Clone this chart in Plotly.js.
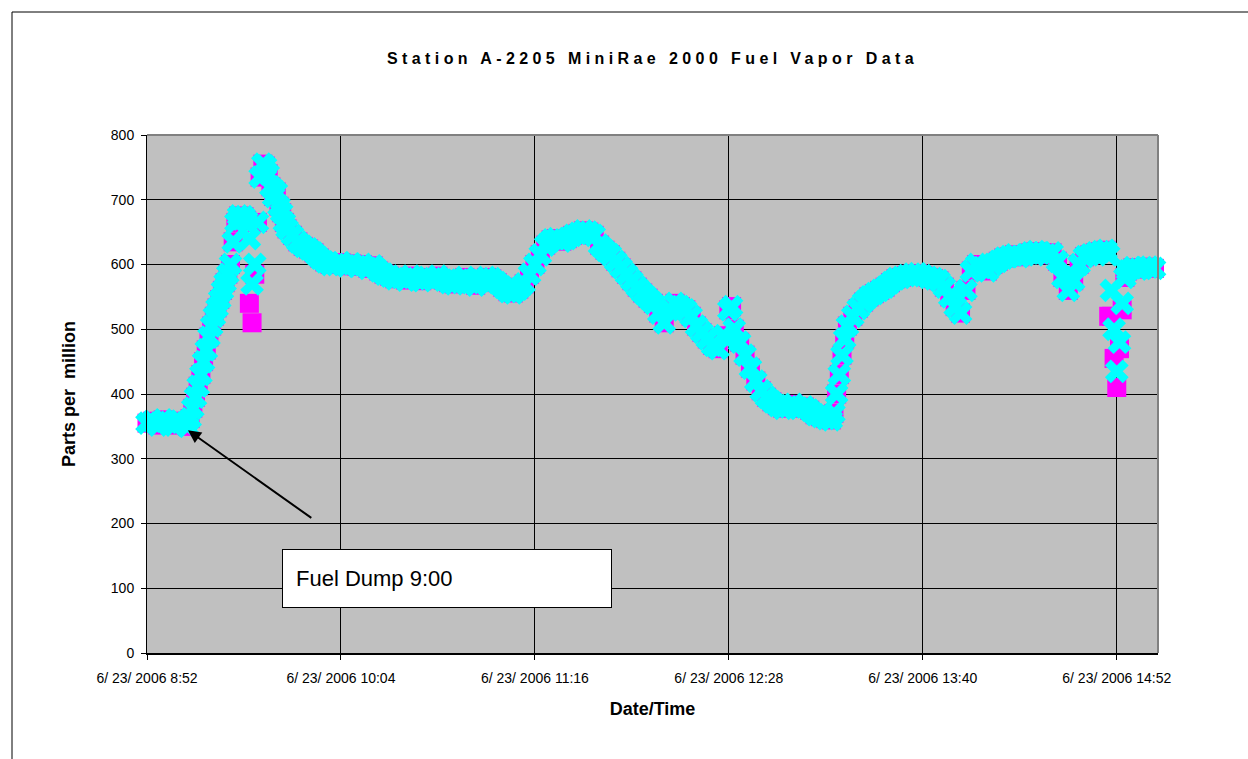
<!DOCTYPE html>
<html>
<head>
<meta charset="utf-8">
<script src="https://cdn.plot.ly/plotly-3.0.1.min.js"></script>
<style>
html,body{margin:0;padding:0;background:#fff;overflow:hidden;}
#chart{width:1248px;height:759px;}
.gtitle{letter-spacing:4.4px;}
</style>
</head>
<body>
<div id="chart"></div>
<script>
const datePrefix = "2006-06-23 ";
const times = [
"08:52","08:54","08:56","08:58","09:00","09:02","09:04","09:06","09:07","09:08",
"09:09","09:10","09:11","09:12","09:13","09:14","09:15","09:16","09:17","09:18",
"09:19","09:20","09:21","09:22","09:23","09:24","09:25","09:26","09:27","09:28",
"09:29","09:30","09:31","09:32","09:33","09:34","09:35","09:36","09:37","09:38",
"09:39","09:40","09:41","09:42","09:43","09:44","09:46","09:48","09:50","09:52",
"09:54","09:56","09:58","10:00","10:02","10:04","10:06","10:08","10:10","10:12",
"10:14","10:16","10:18","10:20","10:22","10:24","10:26","10:28","10:30","10:32",
"10:34","10:36","10:38","10:40","10:42","10:44","10:46","10:48","10:50","10:52",
"10:54","10:56","10:58","11:00","11:02","11:04","11:06","11:08","11:10","11:12",
"11:14","11:16","11:18","11:20","11:22","11:24","11:26","11:28","11:30","11:32",
"11:34","11:36","11:38","11:40","11:42","11:44","11:46","11:48","11:50","11:52",
"11:54","11:56","11:58","12:00","12:02","12:04","12:06","12:08","12:10","12:12",
"12:14","12:16","12:18","12:20","12:22","12:24","12:26","12:28","12:29","12:30",
"12:32","12:34","12:36","12:38","12:40","12:42","12:44","12:46","12:48","12:50",
"12:52","12:54","12:56","12:58","13:00","13:02","13:04","13:06","13:07","13:08",
"13:09","13:10","13:11","13:12","13:14","13:16","13:18","13:20","13:22","13:24",
"13:26","13:28","13:30","13:32","13:34","13:36","13:38","13:40","13:42","13:44",
"13:46","13:48","13:50","13:52","13:54","13:56","13:58","14:00","14:02","14:04",
"14:06","14:08","14:10","14:12","14:14","14:16","14:18","14:20","14:22","14:24",
"14:26","14:28","14:30","14:32","14:34","14:36","14:38","14:40","14:42","14:44",
"14:46","14:48","14:49","14:50","14:51","14:52","14:53","14:54","14:55","14:56",
"14:58","15:00","15:02","15:04","15:06"
];
// magenta series (square markers)
const ppmMagenta = [
355,358,352,360,356,352,358,355,350,362,
378,395,412,430,450,468,488,505,520,533,
546,560,572,585,600,635,665,675,670,674,
668,540,510,585,665,735,755,752,740,720,
705,712,690,680,665,655,645,635,628,624,
618,610,604,600,600,603,598,601,597,600,
594,598,590,585,582,578,580,576,582,578,
575,580,578,582,576,572,570,576,580,572,
568,575,580,578,572,565,558,556,562,570,
585,600,615,630,638,640,636,640,645,648,
652,650,645,630,622,615,605,595,585,575,
565,556,548,540,525,510,530,540,535,530,
520,505,495,485,475,470,490,530,535,500,
480,460,440,420,405,395,388,382,378,380,
384,378,380,375,368,365,362,360,370,400,
430,460,485,505,520,532,542,550,555,560,
565,572,578,580,583,585,586,583,580,578,
575,565,550,535,525,560,590,600,595,590,
600,605,610,612,615,612,615,618,620,618,
615,618,605,580,560,575,600,612,615,618,
620,622,520,520,455,410,470,530,580,590,
595,593,595,596,594
];
// cyan series (x markers)
const ppmCyan = [
355,358,352,360,356,352,358,355,350,362,
378,395,412,430,450,468,488,505,520,533,
546,560,572,585,600,635,665,675,670,674,
668,640,570,600,665,735,755,752,740,720,
705,712,690,680,665,655,645,635,628,624,
618,610,604,600,600,603,598,601,597,600,
594,598,590,585,582,578,580,576,582,578,
575,580,578,582,576,572,570,576,580,572,
568,575,580,578,572,565,558,556,562,570,
585,600,615,630,638,640,636,640,645,648,
652,650,645,630,622,615,605,595,585,575,
565,556,548,540,525,510,530,540,535,530,
520,505,495,485,475,470,490,530,535,500,
480,460,440,420,405,395,388,382,378,380,
384,378,380,375,368,365,362,360,370,400,
430,460,485,505,520,532,542,550,555,560,
565,572,578,580,583,585,586,583,580,578,
575,565,550,535,525,560,590,600,595,590,
600,605,610,612,615,612,615,618,620,618,
615,618,605,580,560,575,600,612,615,618,
620,622,615,560,500,435,480,540,580,590,
595,593,595,596,594
];
const tickTimes = ["08:52","10:04","11:16","12:28","13:40","14:52"];
const tickLabels = ["6/ 23/ 2006 8:52","6/ 23/ 2006 10:04","6/ 23/ 2006 11:16","6/ 23/ 2006 12:28","6/ 23/ 2006 13:40","6/ 23/ 2006 14:52"];
const chartTitle = "Station A-2205 MiniRae 2000 Fuel Vapor Data";
const noteText = "Fuel Dump 9:00";

const xs = times.map(t => datePrefix + t);
const FONT = "Liberation Sans, Arial, sans-serif";

const traces = [
  {x: xs, y: ppmMagenta, type: "scatter", mode: "markers", cliponaxis: false,
   marker: {symbol: "square", size: 19, color: "#FF00FF", line: {width: 0}}, showlegend: false, hoverinfo: "skip"},
  {x: xs, y: ppmCyan, type: "scatter", mode: "markers", cliponaxis: false,
   marker: {symbol: "x", size: 21, color: "#00FFFF", line: {width: 0}}, showlegend: false, hoverinfo: "skip"}
];

const layout = {
  width: 1248, height: 759,
  margin: {l: 147, r: 90, t: 135, b: 106},
  paper_bgcolor: "#FFFFFF",
  plot_bgcolor: "#C0C0C0",
  font: {family: FONT, color: "#000"},
  title: {text: "<b>" + chartTitle + "</b>", font: {family: FONT, size: 16, color: "#000"},
          x: 0.5, xref: "paper", xanchor: "center", y: 1 - 58/759, yref: "container", yanchor: "middle"},
  xaxis: {
    type: "date",
    range: [datePrefix + "08:52:00", datePrefix + "15:07:18"],
    tickvals: tickTimes.map(t => datePrefix + t),
    ticktext: tickLabels,
    ticks: "outside", ticklen: 5, tickcolor: "#000", tickwidth: 1,
    ticklabelstandoff: 6,
    showgrid: true, gridcolor: "#000", gridwidth: 1,
    showline: true, linecolor: "#000", linewidth: 2,
    zeroline: false,
    tickfont: {size: 14, family: FONT, color: "#000"},
    title: {text: "<b>Date/Time</b>", font: {size: 18, family: FONT, color: "#000"}, standoff: 18}
  },
  yaxis: {
    range: [0, 800], dtick: 100, tick0: 0,
    ticks: "outside", ticklen: 5, tickcolor: "#000", tickwidth: 1,
    ticklabelstandoff: 4,
    showgrid: true, gridcolor: "#000", gridwidth: 1,
    showline: true, linecolor: "#000", linewidth: 1,
    zeroline: false,
    tickfont: {size: 14, family: FONT, color: "#000"},
    title: {text: "<b>Parts per  million</b>", font: {size: 18, family: FONT, color: "#000"}, standoff: 30}
  },
  shapes: [
    {type: "line", xref: "paper", yref: "paper", x0: 0, x1: 1, y0: 1, y1: 1, line: {color: "#808080", width: 2}, layer: "above"},
    {type: "line", xref: "paper", yref: "paper", x0: 1, x1: 1, y0: 0, y1: 1, line: {color: "#808080", width: 2}, layer: "above"},
    {type: "rect", xref: "paper", yref: "paper", x0: (12-147)/1011, x1: (1260-147)/1011, y0: (653-770)/518, y1: (653-12)/518,
     line: {color: "#000", width: 1}, fillcolor: "rgba(0,0,0,0)", layer: "above"}
  ],
  annotations: [
    {x: datePrefix + "09:07:12", y: 344, xref: "x", yref: "y", text: "",
     showarrow: true, axref: "x", ayref: "y", ax: datePrefix + "09:53:33", ay: 207,
     arrowhead: 2, arrowsize: 1.3, arrowwidth: 2, arrowcolor: "#000"},
    {x: datePrefix + "10:43:14", y: 115, xref: "x", yref: "y", text: noteText, showarrow: false,
     bgcolor: "#FFFFFF", bordercolor: "#000", borderwidth: 1, borderpad: 13,
     width: 302, height: 31, align: "left", xanchor: "center", yanchor: "middle",
     font: {size: 22, family: FONT, color: "#000"}}
  ]
};

Plotly.newPlot("chart", traces, layout, {staticPlot: true, displayModeBar: false});
</script>
</body>
</html>
